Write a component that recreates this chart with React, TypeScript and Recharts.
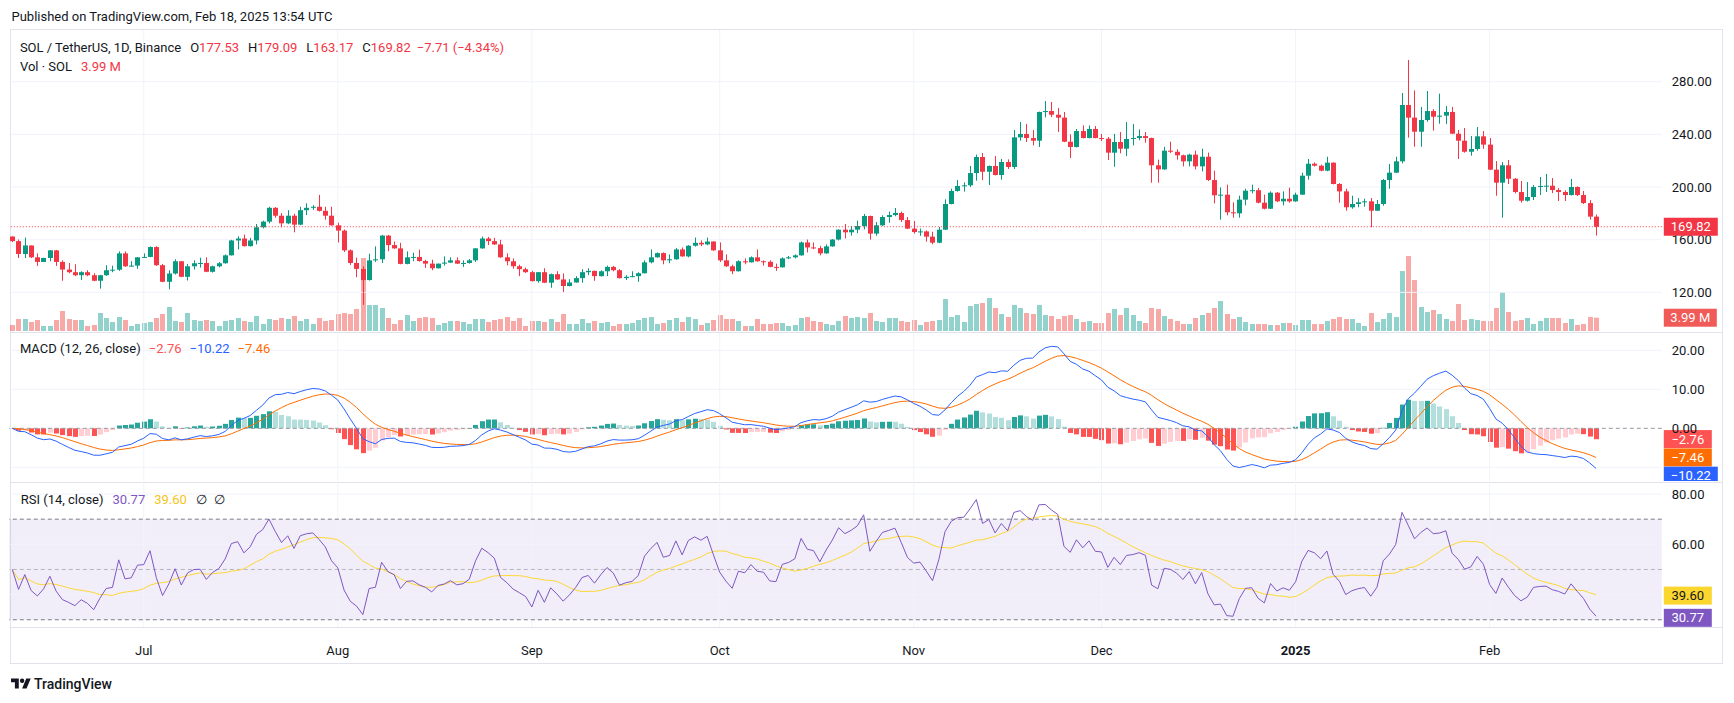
import React from 'react';
import { ComposedChart, Bar, Line, XAxis, YAxis, ReferenceLine, ReferenceArea } from 'recharts';

const FONT = "Roboto, 'Noto Sans', Arial, sans-serif";
const TEXT = '#131722';
const UP = '#089981';
const DOWN = '#f23645';
const GRID = '#f0f3fa';

// ---------- data (daily SOL/USDT, 2024-06-10 .. 2025-02-18) ----------
const firstOpen = 162.4;
const closes = [
  158.9,149.1,155.6,146.6,143.1,146.1,151.9,143.1,137.3,135.3,
  133.0,135.3,133.0,128.8,133.0,136.8,137.2,149.6,139.8,140.3,
  146.6,146.9,154.4,140.6,128.0,134.3,143.6,131.8,139.8,142.1,
  142.3,135.6,139.8,142.1,148.1,159.4,160.9,155.1,159.4,169.4,
  173.7,184.2,178.2,172.4,178.2,171.4,182.4,184.2,185.0,181.9,
  178.2,170.9,166.9,151.9,142.3,137.8,129.3,144.3,145.1,163.1,
  155.9,153.4,141.6,146.6,146.9,143.8,141.8,138.3,141.8,142.6,
  144.3,141.8,142.3,144.3,153.4,160.9,158.9,156.4,146.6,143.6,
  139.8,137.6,135.3,128.5,135.3,127.3,133.8,129.8,124.8,127.5,
  130.8,135.3,136.3,132.3,136.0,139.3,136.8,130.8,131.8,132.3,
  134.5,142.8,146.6,149.8,144.3,145.1,152.6,147.3,155.4,157.6,
  156.4,158.6,151.9,144.3,139.8,136.0,143.6,142.8,146.6,143.6,
  143.2,139.3,139.0,145.8,146.6,148.1,157.9,154.1,153.6,149.6,
  154.9,160.1,167.6,165.6,167.6,170.4,178.0,164.6,170.9,177.2,
  178.7,180.3,174.9,168.4,165.8,166.3,162.3,157.7,167.6,187.1,
  197.0,200.8,201.3,210.6,222.8,211.6,216.0,209.1,219.0,215.2,
  237.7,240.3,237.2,235.2,257.0,257.7,254.9,252.7,234.4,230.4,
  242.5,237.2,244.1,237.2,236.7,226.1,234.2,229.1,236.5,237.2,
  238.7,237.2,216.5,213.4,227.6,226.8,224.1,219.5,224.6,215.7,
  223.0,205.3,193.7,194.2,180.8,180.0,190.4,197.2,197.6,188.1,
  183.5,195.7,189.1,191.1,189.1,194.2,208.6,217.7,216.2,212.4,
  218.5,202.3,196.7,184.6,187.1,188.4,189.1,182.0,187.1,205.3,
  210.9,219.5,262.3,252.7,242.0,250.9,257.7,253.4,254.2,257.0,
  240.5,235.2,226.8,228.9,238.5,232.2,213.2,203.3,216.5,206.3,
  196.2,189.6,192.4,200.0,200.8,201.0,197.7,196.2,193.9,200.0,
  193.9,187.8,177.5,169.82,
];
const highs = [
  162.6,160.1,161.6,155.6,149.6,146.3,152.2,152.2,144.3,142.3,
  141.3,136.0,136.8,134.5,133.3,140.6,140.3,151.1,151.1,143.6,
  146.8,149.6,154.9,155.0,141.6,136.8,145.1,143.8,141.6,144.3,
  146.3,146.6,140.3,143.0,148.8,159.9,162.6,163.9,161.4,171.9,
  174.4,185.0,184.8,180.2,182.4,179.7,185.0,187.7,186.2,194.0,
  185.0,185.0,172.9,167.8,152.6,146.3,139.8,149.3,154.9,163.6,
  163.6,158.6,157.6,151.1,150.1,152.4,144.8,144.8,141.9,147.3,
  146.6,146.6,144.3,145.3,153.6,162.4,162.1,161.4,159.9,149.6,
  145.8,141.0,138.8,136.3,135.5,138.3,134.3,136.0,134.3,130.0,
  132.3,137.6,138.3,136.5,136.8,140.3,140.1,137.6,133.0,136.0,
  135.3,144.3,152.6,150.3,150.3,148.8,153.6,154.1,155.9,161.6,
  159.4,161.6,158.8,157.9,148.8,141.0,144.3,145.8,147.3,152.6,
  144.3,144.3,141.8,146.6,147.6,148.8,158.6,160.1,157.9,155.3,
  156.4,160.4,167.8,171.9,170.2,174.4,179.5,178.3,173.4,178.5,
  181.3,184.1,181.3,177.2,174.2,168.4,167.0,166.0,169.6,190.6,
  198.7,205.3,203.5,216.0,224.6,225.8,216.3,223.5,221.3,221.0,
  243.3,249.4,247.8,243.3,257.3,265.3,264.6,260.0,257.0,240.0,
  244.1,246.8,246.8,246.3,240.3,238.0,240.3,241.8,249.4,247.8,
  243.8,241.8,237.5,220.8,230.6,234.4,228.6,224.6,225.3,227.6,
  229.1,226.1,212.4,199.7,201.8,188.4,193.4,198.7,201.8,199.2,
  194.2,196.7,196.2,196.7,199.5,195.7,210.9,221.3,218.7,217.0,
  223.0,218.7,203.0,198.7,193.4,191.6,191.1,191.6,190.1,206.1,
  217.5,223.0,271.4,296.5,273.4,260.8,272.9,259.2,270.9,261.5,
  260.8,243.3,244.8,238.7,245.6,242.5,237.2,219.7,219.0,220.5,
  206.8,204.6,203.8,201.5,207.6,209.9,206.8,199.2,197.5,206.1,
  200.5,197.0,190.1,179.09,
];
const lows = [
  158.1,146.1,146.1,146.0,140.1,143.1,143.6,140.1,128.8,134.5,
  132.3,129.3,132.3,128.5,122.8,132.5,135.3,136.3,139.3,139.6,
  137.8,146.1,146.6,140.1,127.7,122.3,133.5,131.5,129.0,137.3,
  138.8,135.3,135.0,139.0,141.8,148.0,152.6,154.8,154.8,156.4,
  168.6,172.4,176.7,169.4,171.8,165.6,171.0,178.7,182.7,181.4,
  175.2,170.6,157.9,150.6,140.8,131.5,110.5,129.0,143.1,142.3,
  151.3,153.1,141.3,141.3,143.6,143.3,138.6,136.8,138.1,140.3,
  142.3,141.5,139.3,141.8,143.1,153.1,155.9,155.9,146.3,140.6,
  138.0,132.3,134.8,128.3,127.3,127.1,123.5,129.5,120.3,124.5,
  127.3,127.3,133.0,128.8,132.0,132.3,136.0,130.5,129.3,131.5,
  128.0,134.3,142.0,146.3,141.3,142.1,144.8,147.0,146.6,154.8,
  155.1,155.8,151.6,143.1,139.3,133.8,135.8,141.3,142.6,143.3,
  140.3,139.0,136.3,138.8,145.3,145.8,147.8,150.3,152.8,148.1,
  149.3,154.6,159.4,160.9,163.1,165.0,167.8,160.0,163.0,170.3,
  172.9,177.8,173.4,168.0,164.6,163.0,158.5,156.5,157.3,167.3,
  186.8,196.5,196.5,200.0,204.8,205.3,201.5,208.8,205.6,213.7,
  213.7,235.2,234.2,231.6,230.4,252.9,253.2,241.8,234.1,222.0,
  230.1,237.0,237.0,237.0,234.9,220.5,215.4,225.6,223.5,231.6,
  235.5,233.7,203.3,203.3,213.0,225.8,220.8,215.7,215.7,213.4,
  211.9,204.6,187.6,175.2,178.5,176.7,176.7,186.1,195.2,187.6,
  183.0,183.3,188.6,186.1,188.1,188.8,194.0,205.6,215.6,212.0,
  212.0,202.0,188.1,182.0,183.5,184.6,185.1,169.4,181.8,185.8,
  198.7,210.6,218.0,237.5,230.6,230.6,249.6,242.8,248.1,247.8,
  240.2,221.3,226.1,223.8,227.6,229.1,212.9,193.4,176.7,202.3,
  195.2,188.1,188.9,190.1,193.9,196.2,195.4,189.4,189.4,193.6,
  193.2,187.1,175.2,163.17,
];
// volume in millions of SOL
const volumes = [
  1.8,3.6,3.6,2.7,3.3,1.5,1.5,3.3,6.0,3.6,
  3.3,3.3,1.5,1.8,5.4,3.9,2.7,4.2,3.3,1.5,
  2.1,2.4,2.7,3.9,5.1,7.2,3.0,2.7,5.4,3.3,
  3.0,3.3,3.0,1.5,3.0,3.3,3.9,3.0,2.7,4.5,
  2.1,3.6,3.3,3.9,3.6,4.5,3.0,3.6,2.1,3.9,
  3.0,3.3,5.1,5.4,5.1,6.6,21.9,7.8,7.8,6.9,
  3.9,2.1,3.3,4.8,3.0,3.9,4.2,3.9,1.8,2.4,
  3.0,3.0,2.7,2.1,3.6,3.6,2.7,3.3,3.6,4.2,
  3.0,3.9,1.5,3.0,3.0,2.7,3.6,2.7,5.1,2.1,
  2.1,3.6,2.4,3.0,2.4,2.7,1.5,2.1,2.1,2.4,
  3.3,3.9,4.2,2.1,2.4,3.3,3.9,2.7,4.2,3.6,
  1.8,2.4,3.3,4.8,3.6,3.6,3.0,1.5,1.5,3.6,
  2.1,2.1,2.4,2.4,1.5,1.8,3.9,4.2,3.0,2.7,
  2.1,1.8,3.0,4.5,3.9,4.2,3.9,5.4,3.0,2.7,
  3.9,3.9,3.0,2.7,3.3,1.8,2.7,3.0,3.3,9.6,
  4.2,4.8,2.7,7.5,8.1,8.4,9.9,6.9,5.1,4.2,
  7.8,6.9,5.4,5.1,7.8,4.8,4.5,3.6,4.5,4.8,
  3.6,2.7,3.0,2.4,2.4,5.4,6.6,4.8,6.9,4.8,
  3.0,2.4,6.9,6.6,4.5,3.6,3.0,2.1,2.1,3.9,
  4.8,5.4,6.9,9.0,5.1,3.6,4.2,2.7,2.1,2.1,
  2.1,1.8,1.8,2.4,2.4,1.8,3.3,3.3,2.1,2.1,
  3.0,3.6,4.2,3.6,3.6,2.4,1.5,5.4,2.7,3.6,
  5.4,4.2,18.0,22.5,15.3,7.2,5.7,6.3,5.1,3.6,
  3.0,8.1,3.3,3.6,3.3,3.0,3.0,6.9,11.7,5.7,
  3.0,3.3,3.9,2.1,3.0,3.9,3.9,3.9,2.4,3.6,
  1.8,2.1,4.2,3.99,
];

const monthTicks = [21, 52, 83, 113, 144, 174, 205, 236];
const monthLabels = ['Jul', 'Aug', 'Sep', 'Oct', 'Nov', 'Dec', '2025', 'Feb'];
const priceTicks = [120, 160, 200, 240, 280];
const macdTicks = [20, 10, 0];
const macdGrid = [20, 10, -10];
const rsiTicks = [80, 60];
const rsiGrid = [80, 60, 40];
const lastClose = 169.82;
const lastVol = 3.99;
const legendMacd = { hist: -2.76, macd: -10.22, signal: -7.46 };
const legendRsi = { rsi: 30.77, ma: 39.6 };

// ---------- indicators computed from closes ----------
const opens = closes.map((c, i) => (i === 0 ? firstOpen : closes[i - 1]));
function ema(arr: number[], n: number) {
  const k = 2 / (n + 1);
  let e = arr[0];
  return arr.map((v, i) => (e = i === 0 ? v : v * k + e * (1 - k)));
}
const ema12 = ema(closes, 12);
const ema26 = ema(closes, 26);
const macdLine = ema12.map((v, i) => v - ema26[i]);
const signalLine = ema(macdLine, 9);
const histLine = macdLine.map((v, i) => v - signalLine[i]);
let ag = 2, al = 2;
const rsiLine = closes.map((c, i) => {
  if (i > 0) {
    const ch = c - closes[i - 1];
    ag = (ag * 13 + Math.max(ch, 0)) / 14;
    al = (al * 13 + Math.max(-ch, 0)) / 14;
  }
  return 100 - 100 / (1 + ag / al);
});
const rsiMaLine = rsiLine.map((_, i) => {
  const s = rsiLine.slice(Math.max(0, i - 13), i + 1);
  return s.reduce((a, b) => a + b, 0) / s.length;
});
const histColor = (i: number) => {
  const h = histLine[i];
  const p = i > 0 ? histLine[i - 1] : h;
  if (h >= 0) return h > p ? '#26a69a' : '#b2dfdb';
  return h < p ? '#ff5252' : '#ffcdd2';
};

const SLOTS = 264;
const rows = Array.from({ length: SLOTS }, (_, i) => {
  if (i >= closes.length) return { i };
  return {
    i,
    o: opens[i], h: highs[i], l: lows[i], c: closes[i],
    range: [lows[i], highs[i]],
    vol: volumes[i],
    up: closes[i] >= opens[i],
    macd: macdLine[i], signal: signalLine[i], hist: histLine[i], hc: histColor(i),
    rsi: rsiLine[i], rsiMa: rsiMaLine[i],
  };
});

// ---------- geometry ----------
const W = 1734;
const PLOT_LEFT = 9.17;
const AXIS_W = 72.2;
const margin = { top: 0, right: 0, bottom: 0, left: PLOT_LEFT };

// ---------- shapes ----------
const CandleShape = (props: any) => {
  const { x, y, width, height, payload } = props;
  if (!payload || payload.c == null || x == null) return null;
  const { o, c, h, l } = payload;
  const color = c >= o ? UP : DOWN;
  const yTop = Math.min(y, y + height);
  const yBot = Math.max(y, y + height);
  const pix = (v: number) => (h === l ? yTop : yTop + ((h - v) / (h - l)) * (yBot - yTop));
  const cx = x + width / 2;
  const bx = Math.round(cx - 2.5);
  const bTop = pix(Math.max(o, c));
  const bBot = pix(Math.min(o, c));
  return (
    <g>
      <rect x={bx + 2} y={yTop} width={1} height={Math.max(1, yBot - yTop)} fill={color} />
      <rect x={bx} y={bTop} width={5} height={Math.max(1, bBot - bTop)} fill={color} />
    </g>
  );
};
const VolShape = (props: any) => {
  const { x, y, width, height, payload } = props;
  if (!payload || payload.vol == null || x == null) return null;
  const cx = x + width / 2;
  const bx = Math.round(cx - 2.5);
  const yTop = Math.min(y, y + height);
  return <rect x={bx} y={yTop} width={5} height={Math.abs(height)} fill={payload.up ? 'rgba(38,166,154,0.5)' : 'rgba(239,83,80,0.5)'} />;
};
const HistShape = (props: any) => {
  const { x, y, width, height, payload } = props;
  if (!payload || payload.hist == null || x == null) return null;
  const cx = x + width / 2;
  const bx = Math.round(cx - 2.5);
  const yTop = Math.min(y, y + height);
  return <rect x={bx} y={yTop} width={5} height={Math.max(0.5, Math.abs(height))} fill={payload.hc} />;
};

const RightTick = (props: any) => {
  const { x, y, payload } = props;
  return (
    <text x={x + 10} y={y} dy={4.5} fill={TEXT} fontSize={13} fontFamily={FONT} textAnchor="start">
      {Number(payload.value).toFixed(2)}
    </text>
  );
};
const TimeTick = (props: any) => {
  const { x, y, payload } = props;
  const idx = monthTicks.indexOf(Number(payload.value));
  const label = idx >= 0 ? monthLabels[idx] : '';
  return (
    <text x={x} y={y + 23} dy={4.5} fill={TEXT} fontSize={13} fontFamily={FONT} textAnchor="middle" fontWeight={label === '2025' ? 700 : 400}>
      {label}
    </text>
  );
};
const Tag = (props: any) => {
  const { viewBox, bg, fg, text, shift = 0, w = 48 } = props;
  if (!viewBox) return null;
  const cy = viewBox.y + (viewBox.height || 0) / 2 + shift;
  const x0 = viewBox.x + viewBox.width + 2;
  return (
    <g>
      <rect x={x0} y={cy - 9} width={w} height={18} fill={bg} />
      <text x={x0 + w / 2} y={cy} dy={4.5} textAnchor="middle" fill={fg} fontSize={13} fontFamily={FONT}>{text}</text>
    </g>
  );
};

const fmt = (v: number) => (v < 0 ? '\u2212' + Math.abs(v).toFixed(2) : v.toFixed(2));

const abs = (left: number, top: number): React.CSSProperties => ({ position: 'absolute', left, top });

const TVLogo = () => (
  <svg width={20} height={16} viewBox="0 0 36 28" style={{ position: 'absolute', left: 11, top: 676 }}>
    <path d="M14 22H7V11H0V4h14v18z" fill={TEXT} />
    <path d="M28 22h-8l7.5-18h8L28 22z" fill={TEXT} />
    <circle cx="20" cy="8" r="4" fill={TEXT} />
  </svg>
);

export default function App() {
  const txt: React.CSSProperties = { fontFamily: FONT, fontSize: 13, color: TEXT, lineHeight: '18px', whiteSpace: 'nowrap' };
  return (
    <div style={{ position: 'absolute', left: 0, top: 0, width: W, height: 703, background: '#ffffff', overflow: 'hidden' }}>
      <div style={{ ...txt, ...abs(11.5, 7.7) }}>Published on TradingView.com, Feb 18, 2025 13:54 UTC</div>

      {/* frame */}
      <div style={{ position: 'absolute', left: 10, top: 29, width: 1711, height: 633, border: '1px solid #e0e3eb' }} />

      {/* main pane: grid + volume */}
      <div style={abs(0, 30)}>
        <ComposedChart width={W} height={301} data={rows} margin={margin}>
          <XAxis dataKey="i" type="category" scale="band" hide />
          <YAxis yAxisId="price" orientation="right" width={AXIS_W} type="number" domain={[90.63, 319.27]} allowDataOverflow
            axisLine={false} tickLine={false} tickSize={0} tickMargin={0} ticks={priceTicks} interval={0} tick={<RightTick />} />
          <YAxis yAxisId="vol" hide type="number" domain={[0, 90.39]} allowDataOverflow />
          {priceTicks.map((p) => <ReferenceLine key={'p' + p} yAxisId="price" y={p} stroke={GRID} strokeWidth={1} />)}
          {monthTicks.map((m) => <ReferenceLine key={'m' + m} yAxisId="price" x={m} stroke={GRID} strokeWidth={1} />)}
          <Bar yAxisId="vol" dataKey="vol" barSize={5} shape={VolShape} isAnimationActive={false} />
          <ReferenceLine yAxisId="vol" y={lastVol} stroke="none" label={<Tag bg="#f05a57" fg="#ffffff" text="3.99 M" w={53} />} />
        </ComposedChart>
      </div>
      {/* main pane: candles */}
      <div style={abs(0, 30)}>
        <ComposedChart width={W} height={301} data={rows} margin={margin}>
          <XAxis dataKey="i" type="category" scale="band" hide />
          <YAxis yAxisId="price" orientation="right" width={AXIS_W} type="number" domain={[90.63, 319.27]} allowDataOverflow
            axisLine={false} tickLine={false} tick={false} />
          <Bar yAxisId="price" dataKey="range" barSize={5} shape={CandleShape} isAnimationActive={false} />
          <ReferenceLine yAxisId="price" y={lastClose} stroke={DOWN} strokeDasharray="1 2"
            label={<Tag bg={DOWN} fg="#ffffff" text="169.82" w={54} />} />
        </ComposedChart>
      </div>

      {/* MACD pane */}
      <div style={abs(0, 333)}>
        <ComposedChart width={W} height={148} data={rows} margin={margin}>
          <XAxis dataKey="i" type="category" scale="band" hide />
          <YAxis orientation="right" width={AXIS_W} type="number" domain={[-13.51, 24.44]} allowDataOverflow
            axisLine={false} tickLine={false} tickSize={0} tickMargin={0} ticks={macdTicks} interval={0} tick={<RightTick />} />
          {macdGrid.map((p) => <ReferenceLine key={'g' + p} y={p} stroke={GRID} />)}
          {monthTicks.map((m) => <ReferenceLine key={'m' + m} x={m} stroke={GRID} />)}
          <ReferenceLine y={0} stroke="#9598a1" strokeDasharray="4 3" />
          <Bar dataKey="hist" barSize={5} shape={HistShape} isAnimationActive={false} />
          <Line dataKey="signal" stroke="#ff6d00" strokeWidth={1} dot={false} isAnimationActive={false} />
          <Line dataKey="macd" stroke="#2962ff" strokeWidth={1} dot={false} isAnimationActive={false} />
          <ReferenceLine y={legendMacd.hist} stroke="none" label={<Tag bg="#ff5252" fg="#ffffff" text={fmt(legendMacd.hist)} />} />
          <ReferenceLine y={legendMacd.signal} stroke="none" label={<Tag bg="#ff6d00" fg="#ffffff" text={fmt(legendMacd.signal)} />} />
          <ReferenceLine y={legendMacd.macd} stroke="none" label={<Tag bg="#2962ff" fg="#ffffff" text={fmt(legendMacd.macd)} w={54} shift={7.5} />} />
        </ComposedChart>
      </div>

      {/* RSI pane + time axis */}
      <div style={abs(0, 484)}>
        <ComposedChart width={W} height={179} data={rows} margin={margin}>
          <XAxis dataKey="i" type="category" scale="band" height={36} ticks={monthTicks} interval={0}
            axisLine={false} tickLine={false} tickSize={0} tickMargin={0} tick={<TimeTick />} />
          <YAxis orientation="right" width={AXIS_W} type="number" domain={[27.12, 83.98]} allowDataOverflow
            axisLine={false} tickLine={false} tickSize={0} tickMargin={0} ticks={rsiTicks} interval={0} tick={<RightTick />} />
          {rsiGrid.map((p) => <ReferenceLine key={'g' + p} y={p} stroke={GRID} />)}
          {monthTicks.map((m) => <ReferenceLine key={'m' + m} x={m} stroke={GRID} />)}
          <ReferenceArea y1={30} y2={70} fill="#7e57c2" fillOpacity={0.1} stroke="none" />
          <ReferenceLine y={70} stroke="#787b86" strokeDasharray="4 3" />
          <ReferenceLine y={50} stroke="#787b86" strokeOpacity={0.5} strokeDasharray="4 3" />
          <ReferenceLine y={30} stroke="#787b86" strokeDasharray="4 3" />
          <Line dataKey="rsiMa" stroke="#fdd835" strokeWidth={1} dot={false} isAnimationActive={false} />
          <Line dataKey="rsi" stroke="#7e57c2" strokeWidth={1} dot={false} isAnimationActive={false} />
          <ReferenceLine y={legendRsi.ma} stroke="none" label={<Tag bg="#fbd62f" fg={TEXT} text={legendRsi.ma.toFixed(2)} />} />
          <ReferenceLine y={legendRsi.rsi} stroke="none" label={<Tag bg="#7e57c2" fg="#ffffff" text={legendRsi.rsi.toFixed(2)} />} />
        </ComposedChart>
      </div>

      {/* pane separators */}
      <div style={{ position: 'absolute', left: 10, top: 332, width: 1712, height: 1, background: '#e0e3eb' }} />
      <div style={{ position: 'absolute', left: 10, top: 482, width: 1712, height: 1, background: '#e0e3eb' }} />
      <div style={{ position: 'absolute', left: 10, top: 627, width: 1712, height: 1, background: '#e0e3eb' }} />

      {/* legends */}
      <div style={{ ...txt, ...abs(19.9, 38.7) }}>
        <span>SOL / TetherUS, 1D, Binance</span>
        <span style={{ marginLeft: 9 }}>O</span><span style={{ color: DOWN }}>177.53</span>
        <span style={{ marginLeft: 9 }}>H</span><span style={{ color: DOWN }}>179.09</span>
        <span style={{ marginLeft: 9 }}>L</span><span style={{ color: DOWN }}>163.17</span>
        <span style={{ marginLeft: 9 }}>C</span><span style={{ color: DOWN }}>169.82</span>
        <span style={{ marginLeft: 6, color: DOWN }}>{'\u22127.71 (\u22124.34%)'}</span>
      </div>
      <div style={{ ...txt, ...abs(19.9, 57.7) }}>
        <span>Vol · SOL</span><span style={{ marginLeft: 9, color: DOWN }}>3.99 M</span>
      </div>
      <div style={{ ...txt, ...abs(19.9, 340) }}>
        <span>MACD (12, 26, close)</span>
        <span style={{ marginLeft: 8, color: '#ff5252' }}>{fmt(legendMacd.hist)}</span>
        <span style={{ marginLeft: 8, color: '#2962ff' }}>{fmt(legendMacd.macd)}</span>
        <span style={{ marginLeft: 8, color: '#ff6d00' }}>{fmt(legendMacd.signal)}</span>
      </div>
      <div style={{ ...txt, ...abs(20.7, 491) }}>
        <span>RSI (14, close)</span>
        <span style={{ marginLeft: 9, color: '#7e57c2' }}>{legendRsi.rsi.toFixed(2)}</span>
        <span style={{ marginLeft: 9, color: '#f5c518' }}>{legendRsi.ma.toFixed(2)}</span>
        <span style={{ marginLeft: 9 }}>∅</span>
        <span style={{ marginLeft: 7 }}>∅</span>
      </div>

      <TVLogo />
      <div style={{ ...txt, fontSize: 14, fontWeight: 500, ...abs(34, 674.5) }}>TradingView</div>
    </div>
  );
}
